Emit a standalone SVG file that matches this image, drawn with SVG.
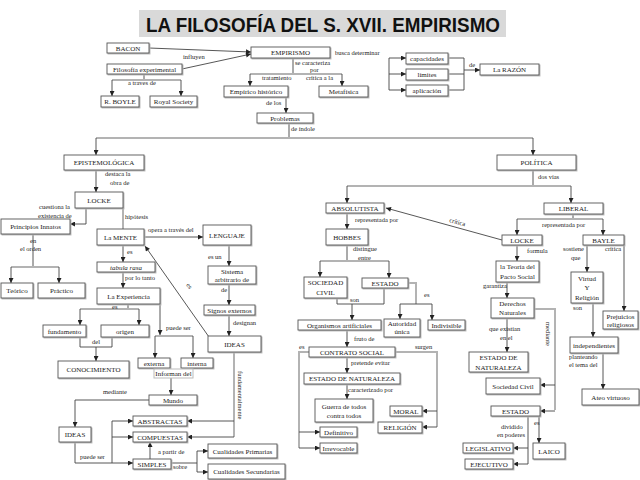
<svg xmlns="http://www.w3.org/2000/svg" width="640" height="480" viewBox="0 0 640 480">
<style>
.b{fill:#fff;stroke:#555;stroke-width:0.9;filter:drop-shadow(1.5px 1.5px 0 #b8b8b8)}
.bl{fill:#fff;stroke:#bbb;stroke-width:1}
.t{font-family:"Liberation Serif",serif;font-size:7px;text-anchor:middle;fill:#222}
.l{font-family:"Liberation Serif",serif;font-size:6.5px;fill:#222}
.c{stroke:#444;stroke-width:0.9;fill:none}
.g{stroke:#b3b3b3;stroke-width:2;fill:none}
.a{marker-end:url(#ar)}
</style>
<defs>
<marker id="ar" viewBox="0 0 10 10" refX="10" refY="5" markerWidth="6" markerHeight="5" markerUnits="userSpaceOnUse" orient="auto">
<path d="M0,0 L10,5 L0,10 z" fill="#222"/>
</marker>
</defs>
<rect width="640" height="480" fill="#fff"/>
<g id="title">
<rect x="139" y="10" width="367" height="27" fill="#d9d9d9"/>
<text x="146" y="32" font-family="Liberation Sans,sans-serif" font-weight="bold" font-size="20" textLength="354" lengthAdjust="spacingAndGlyphs" fill="#111">LA FILOSOFÍA DEL S. XVII. EMPIRISMO</text>
</g>
<g id="connectors">
<path class="c a" d="M149,48 L251,52"/>
<path class="c a" d="M182,69 L251,54"/>
<path class="c" d="M144,74 V80"/>
<path class="g" d="M112,80 H181"/>
<path class="c a" d="M112,80 V96"/>
<path class="c a" d="M181,80 V96"/>
<path class="c" d="M293,58 V74"/>
<path class="g" d="M250,74 H342"/>
<path class="c a" d="M250,74 V86"/>
<path class="c a" d="M342,74 V86"/>
<path class="c a" d="M286,97 V113"/>
<path class="c" d="M289,123 V138"/>
<path class="g" d="M96,138 H533"/>
<path class="c a" d="M96,138 V155"/>
<path class="c a" d="M533,138 V155"/>
<path class="c" d="M389,58 V90"/>
<path class="c a" d="M389,58 H406"/>
<path class="c a" d="M389,74 H406"/>
<path class="c a" d="M389,90 H406"/>
<path class="c" d="M448,58 H464 V90 H448 M448,74 H464"/>
<path class="c a" d="M464,70 H480"/>
<path class="c a" d="M96,170 V192"/>
<path class="c a" d="M86,208 V224 H70"/>
<path class="g" d="M123,208 V229"/>
<path class="c" d="M33,234 V267"/>
<path class="g" d="M11,267 H59"/>
<path class="c a" d="M11,267 V283"/>
<path class="c a" d="M59,267 V283"/>
<path class="c a" d="M144,237 H203"/>
<path class="c a" d="M229,245 V266"/>
<path class="c a" d="M229,284 V305"/>
<path class="c a" d="M229,315 V336"/>
<path class="c a" d="M209,337 L145,246"/>
<path class="c a" d="M123,245 V262"/>
<path class="c a" d="M123,272 V288"/>
<path class="c" d="M128,304 V309"/>
<path class="g" d="M80,309 H139"/>
<path class="c a" d="M80,309 V325"/>
<path class="c a" d="M139,309 V325"/>
<path class="c" d="M80,337 V347 H112 V337"/>
<path class="c a" d="M96,347 V361"/>
<path class="c a" d="M160,304 V335"/>
<path class="g" d="M155,336 H193"/>
<path class="c a" d="M155,336 V358"/>
<path class="c a" d="M193,336 V358"/>
<path class="c a" d="M171,378 V395"/>
<path class="c a" d="M149,400 H75 V427"/>
<path class="c" d="M75,442 V463 H112 M112,421 V463"/>
<path class="c a" d="M112,421 H133"/>
<path class="c a" d="M112,437 H133"/>
<path class="c a" d="M112,463 H133"/>
<path class="c a" d="M150,459 V442"/>
<path class="c" d="M171,463 H197 M197,451 V472"/>
<path class="c a" d="M197,451 H208"/>
<path class="c a" d="M197,472 H208"/>
<path class="g" d="M234,352 V437"/>
<path class="c a" d="M234,421 H187"/>
<path class="c a" d="M234,437 H187"/>
<path class="c" d="M533,170 V186"/>
<path class="g" d="M347,186 H571"/>
<path class="c a" d="M347,186 V203"/>
<path class="c a" d="M571,186 V203"/>
<path class="c a" d="M347,213 V229"/>
<path class="c" d="M347,245 V261"/>
<path class="g" d="M320,261 H389"/>
<path class="c a" d="M320,261 V277"/>
<path class="c a" d="M389,261 V278"/>
<path class="c" d="M337,298 V304 H384 V288"/>
<path class="c a" d="M352,304 V320"/>
<path class="g" d="M408,283 H416 V304"/>
<path class="c" d="M400,304 H432"/>
<path class="c a" d="M400,304 V319"/>
<path class="c a" d="M432,304 V320"/>
<path class="c a" d="M347,330 V347"/>
<path class="g" d="M309,352 H299 V448"/>
<path class="c a" d="M299,432 H320"/>
<path class="c a" d="M299,448 H320"/>
<path class="g" d="M395,352 H437 V427"/>
<path class="c a" d="M437,411 H422"/>
<path class="c a" d="M437,427 H422"/>
<path class="c a" d="M347,357 V373"/>
<path class="c a" d="M347,384 V399"/>
<path class="c" d="M573,214 V219"/>
<path class="g" d="M517,219 H603"/>
<path class="c a" d="M517,219 V235"/>
<path class="c a" d="M603,219 V235"/>
<path class="c a" d="M502,240 L386,208"/>
<path class="c a" d="M517,245 V261"/>
<path class="c a" d="M507,282 V298"/>
<path class="c a" d="M507,318 V352"/>
<path class="g" d="M534,309 H555 V410"/>
<path class="c a" d="M555,385 H540"/>
<path class="c a" d="M555,411 H540"/>
<path class="c a" d="M539,416 V443"/>
<path class="c" d="M528,416 V464"/>
<path class="c a" d="M528,448 H513"/>
<path class="c a" d="M528,464 H513"/>
<path class="c a" d="M587,245 V272"/>
<path class="c a" d="M624,245 V311"/>
<path class="c a" d="M593,303 V337"/>
<path class="c a" d="M603,353 V389"/>
</g>
<g id="labels">
<text class="l" x="183" y="59">influyen</text>
<text class="l" x="128" y="85">a traves de</text>
<text class="l" x="295" y="65">se caracteriza</text>
<text class="l" x="310" y="72">por</text>
<text class="l" x="262" y="80">tratamiento</text>
<text class="l" x="306" y="80">crítica a la</text>
<text class="l" x="335" y="55">busca determinar</text>
<text class="l" x="266" y="105">de los</text>
<text class="l" x="291" y="131">de índole</text>
<text class="l" x="469" y="67">de</text>
<text class="l" x="105" y="176">destaca la</text>
<text class="l" x="110" y="185">obra de</text>
<text class="l" x="39" y="209">cuestiona la</text>
<text class="l" x="38" y="218">existencia de</text>
<text class="l" x="125" y="219">hipótesis</text>
<text class="l" x="30" y="243">en</text>
<text class="l" x="20" y="251">el orden</text>
<text class="l" x="148" y="232">opera a través del</text>
<text class="l" x="208" y="259">es un</text>
<text class="l" x="221" y="292">de</text>
<text class="l" x="233" y="325">designan</text>
<text class="l" x="127" y="254">es</text>
<text class="l" x="125" y="280">por lo tanto</text>
<text class="l" x="112" y="309">es</text>
<text class="l" x="92" y="344">del</text>
<text class="l" x="166" y="330">puede ser</text>
<text class="l" x="103" y="394">mediante</text>
<text class="l" x="80" y="459">puede ser</text>
<text class="l" x="158" y="454">a partir de</text>
<text class="l" x="173" y="469">sobre</text>
<text class="l" transform="translate(186,285) rotate(55)">es</text>
<text class="l" transform="translate(238,371) rotate(90)">fundamentalmente</text>
<text class="l" x="538" y="179">dos vías</text>
<text class="l" x="355" y="222">representada por</text>
<text class="l" transform="translate(449,222) rotate(15)">crítica</text>
<text class="l" x="542" y="227">representada por</text>
<text class="l" x="353" y="251">distingue</text>
<text class="l" x="358" y="260">entre</text>
<text class="l" x="350" y="302">son</text>
<text class="l" x="424" y="297">es</text>
<text class="l" x="354" y="341">fruto de</text>
<text class="l" x="299" y="349">es</text>
<text class="l" x="415" y="349">surgen</text>
<text class="l" x="351" y="365">pretende evitar</text>
<text class="l" x="348" y="392">caracterizado por</text>
<text class="l" x="527" y="253">formula</text>
<text class="l" x="483" y="288">garantiza</text>
<text class="l" x="489" y="331">que existían</text>
<text class="l" x="500" y="340">en el</text>
<text class="l" transform="translate(546,322) rotate(90)">mediante</text>
<text class="l" x="501" y="429">dividido</text>
<text class="l" x="497" y="437">en poderes</text>
<text class="l" x="534" y="425">es</text>
<text class="l" x="563" y="251">sostiene</text>
<text class="l" x="571" y="260">que</text>
<text class="l" x="605" y="251">crítica</text>
<text class="l" x="573" y="310">son</text>
<text class="l" x="569" y="359">planteando</text>
<text class="l" x="569" y="367">el tema del</text>
</g>
<g id="bacon"><rect class="b" x="107" y="43" width="42" height="10"/><text class="t" x="128" y="50.5">BACON</text></g>
<g id="filosofia-experimental"><rect class="b" x="107" y="64" width="75" height="10"/><text class="t" x="144.5" y="71.5">Filosofía experimental</text></g>
<g id="empirismo"><rect class="b" x="251" y="47" width="79" height="11"/><text class="t" x="290.5" y="55">EMPIRISMO</text></g>
<g id="boyle"><rect class="b" x="101" y="96" width="38" height="11"/><text class="t" x="120" y="104">R. BOYLE</text></g>
<g id="royal-society"><rect class="b" x="150" y="96" width="47" height="11"/><text class="t" x="173.5" y="104">Royal Society</text></g>
<g id="empirico"><rect class="b" x="224" y="86" width="64" height="11"/><text class="t" x="256" y="94">Empírico histórico</text></g>
<g id="metafisica"><rect class="b" x="319" y="86" width="49" height="11"/><text class="t" x="343.5" y="94">Metafísica</text></g>
<g id="problemas"><rect class="b" x="257" y="113" width="56" height="10"/><text class="t" x="285" y="120.5">Problemas</text></g>
<g id="capacidades"><rect class="b" x="406" y="53" width="42" height="11"/><text class="t" x="427" y="61">capacidades</text></g>
<g id="limites"><rect class="b" x="406" y="69" width="42" height="11"/><text class="t" x="427" y="77">límites</text></g>
<g id="aplicacion"><rect class="b" x="406" y="85" width="42" height="11"/><text class="t" x="427" y="93">aplicación</text></g>
<g id="razon"><rect class="b" x="480" y="64" width="59" height="11"/><text class="t" x="509.5" y="72">La RAZÓN</text></g>
<g id="epistemologica"><rect class="b" x="64" y="155" width="80" height="15"/><text class="t" x="104" y="165">EPISTEMOLÓGICA</text></g>
<g id="locke-1"><rect class="b" x="75" y="192" width="48" height="16"/><text class="t" x="99" y="202.5">LOCKE</text></g>
<g id="principios"><rect class="b" x="1" y="219" width="69" height="15"/><text class="t" x="35.5" y="229">Principios Innatos</text></g>
<g id="teorico"><rect class="b" x="1" y="283" width="32" height="15"/><text class="t" x="17" y="293">Teórico</text></g>
<g id="practico"><rect class="b" x="38" y="283" width="47" height="15"/><text class="t" x="61.5" y="293">Práctico</text></g>
<g id="mente"><rect class="b" x="97" y="229" width="47" height="16"/><text class="t" x="120.5" y="239.5">La MENTE</text></g>
<g id="lenguaje"><rect class="b" x="203" y="225" width="48" height="20"/><text class="t" x="227" y="237.5">LENGUAJE</text></g>
<g id="sistema"><rect class="b" x="208" y="266" width="48" height="18"/><text class="t" x="232" y="273.5">Sistema</text><text class="t" x="232" y="281.5">arbitrario de</text></g>
<g id="signos"><rect class="b" x="204" y="305" width="51" height="10"/><text class="t" x="229.5" y="312.5">Signos externos</text></g>
<g id="ideas-1"><rect class="b" x="208" y="336" width="53" height="16"/><text class="t" x="234.5" y="346.5">IDEAS</text></g>
<g id="tabula-rasa"><rect class="b" x="97" y="262" width="58" height="10"/><text class="t" x="126" y="269.5" font-style="italic">tabula rasa</text></g>
<g id="experiencia"><rect class="b" x="97" y="288" width="63" height="16"/><text class="t" x="128.5" y="298.5">La Experiencia</text></g>
<g id="fundamento"><rect class="b" x="43" y="325" width="43" height="12"/><text class="t" x="64.5" y="333.5">fundamento</text></g>
<g id="origen"><rect class="b" x="101" y="325" width="48" height="12"/><text class="t" x="125" y="333.5">origen</text></g>
<g id="conocimiento"><rect class="b" x="58" y="361" width="71" height="17"/><text class="t" x="93.5" y="372">CONOCIMIENTO</text></g>
<g id="externa"><rect class="b" x="138" y="358" width="32" height="10"/><text class="t" x="154" y="365.5">externa</text></g>
<g id="interna"><rect class="b" x="181" y="358" width="32" height="10"/><text class="t" x="197" y="365.5">interna</text></g>
<g id="informan"><rect class="bl" x="154" y="369" width="39" height="9"/><text class="t" x="173.5" y="376">Informan del</text></g>
<g id="mundo"><rect class="b" x="149" y="395" width="48" height="10"/><text class="t" x="173" y="402.5">Mundo</text></g>
<g id="ideas-2"><rect class="b" x="59" y="427" width="32" height="15"/><text class="t" x="75" y="437">IDEAS</text></g>
<g id="abstractas"><rect class="b" x="133" y="416" width="54" height="10"/><text class="t" x="160" y="423.5">ABSTRACTAS</text></g>
<g id="compuestas"><rect class="b" x="133" y="432" width="54" height="10"/><text class="t" x="160" y="439.5">COMPUESTAS</text></g>
<g id="simples"><rect class="b" x="133" y="459" width="38" height="10"/><text class="t" x="152" y="466.5">SIMPLES</text></g>
<g id="primarias"><rect class="b" x="208" y="444" width="69" height="14"/><text class="t" x="242.5" y="453.5">Cualidades Primarias</text></g>
<g id="secundarias"><rect class="b" x="208" y="464" width="77" height="15"/><text class="t" x="246.5" y="474">Cualidades Secundarias</text></g>
<g id="politica"><rect class="b" x="497" y="155" width="79" height="15"/><text class="t" x="536.5" y="165">POLÍTICA</text></g>
<g id="absolutista"><rect class="b" x="326" y="203" width="58" height="10"/><text class="t" x="355" y="210.5">ABSOLUTISTA</text></g>
<g id="liberal"><rect class="b" x="544" y="203" width="59" height="11"/><text class="t" x="573.5" y="211">LIBERAL</text></g>
<g id="hobbes"><rect class="b" x="326" y="229" width="42" height="16"/><text class="t" x="347" y="239.5">HOBBES</text></g>
<g id="sociedad-civil-1"><rect class="b" x="304" y="277" width="43" height="21"/><text class="t" x="325.5" y="285">SOCIEDAD</text><text class="t" x="325.5" y="294.5">CIVIL</text></g>
<g id="estado-1"><rect class="b" x="362" y="278" width="46" height="10"/><text class="t" x="385" y="285.5">ESTADO</text></g>
<g id="organismos"><rect class="b" x="298" y="320" width="83" height="10"/><text class="t" x="339.5" y="327.5">Organismos artificiales</text></g>
<g id="autoridad"><rect class="b" x="384" y="319" width="36" height="18"/><text class="t" x="402" y="325.5">Autoridad</text><text class="t" x="402" y="334">única</text></g>
<g id="indivisible"><rect class="b" x="428" y="320" width="37" height="10"/><text class="t" x="446.5" y="327.5">Indivisible</text></g>
<g id="contrato"><rect class="b" x="309" y="347" width="86" height="10"/><text class="t" x="352" y="354.5">CONTRATO SOCIAL</text></g>
<g id="estado-naturaleza-1"><rect class="b" x="304" y="373" width="96" height="11"/><text class="t" x="352" y="381">ESTADO DE NATURALEZA</text></g>
<g id="guerra"><rect class="b" x="315" y="399" width="58" height="23"/><text class="t" x="344" y="408.5">Guerra de todos</text><text class="t" x="344" y="418">contra todos</text></g>
<g id="definitivo"><rect class="b" x="320" y="427" width="37" height="10"/><text class="t" x="338.5" y="434.5">Definitivo</text></g>
<g id="irrevocable"><rect class="b" x="320" y="443" width="37" height="10"/><text class="t" x="338.5" y="450.5">Irrevocable</text></g>
<g id="moral"><rect class="b" x="390" y="406" width="32" height="10"/><text class="t" x="406" y="413.5">MORAL</text></g>
<g id="religion"><rect class="b" x="378" y="422" width="44" height="11"/><text class="t" x="400" y="430">RELIGIÓN</text></g>
<g id="locke-2"><rect class="b" x="502" y="235" width="40" height="10"/><text class="t" x="522" y="242.5">LOCKE</text></g>
<g id="teoria"><rect class="b" x="496" y="261" width="43" height="21"/><text class="t" x="517.5" y="269">la Teoría del</text><text class="t" x="517.5" y="278.5">Pacto Social</text></g>
<g id="derechos"><rect class="b" x="491" y="298" width="43" height="20"/><text class="t" x="512.5" y="306">Derechos</text><text class="t" x="512.5" y="315">Naturales</text></g>
<g id="estado-naturaleza-2"><rect class="b" x="469" y="352" width="59" height="20"/><text class="t" x="498.5" y="360">ESTADO DE</text><text class="t" x="498.5" y="369.5">NATURALEZA</text></g>
<g id="sociedad-civil-2"><rect class="b" x="486" y="378" width="54" height="16"/><text class="t" x="513" y="388.5">Sociedad Civil</text></g>
<g id="estado-2"><rect class="b" x="491" y="406" width="49" height="10"/><text class="t" x="515.5" y="413.5">ESTADO</text></g>
<g id="laico"><rect class="b" x="533" y="443" width="32" height="16"/><text class="t" x="549" y="453.5">LAICO</text></g>
<g id="legislativo"><rect class="b" x="463" y="443" width="50" height="10"/><text class="t" x="488" y="450.5">LEGISLATIVO</text></g>
<g id="ejecutivo"><rect class="b" x="465" y="459" width="48" height="10"/><text class="t" x="489" y="466.5">EJECUTIVO</text></g>
<g id="bayle"><rect class="b" x="583" y="235" width="41" height="10"/><text class="t" x="603.5" y="242.5">BAYLE</text></g>
<g id="virtud"><rect class="b" x="571" y="272" width="32" height="31"/><text class="t" x="587" y="281">Virtud</text><text class="t" x="587" y="290">Y</text><text class="t" x="587" y="299.5">Religión</text></g>
<g id="prejuicios"><rect class="b" x="603" y="311" width="35" height="18"/><text class="t" x="620.5" y="318.5">Prejuicios</text><text class="t" x="620.5" y="327">religiosos</text></g>
<g id="independientes"><rect class="b" x="570" y="337" width="48" height="16"/><text class="t" x="594" y="347.5">independientes</text></g>
<g id="ateo"><rect class="b" x="582" y="389" width="57" height="16"/><text class="t" x="610.5" y="399.5">Ateo virtuoso</text></g>
</svg>
